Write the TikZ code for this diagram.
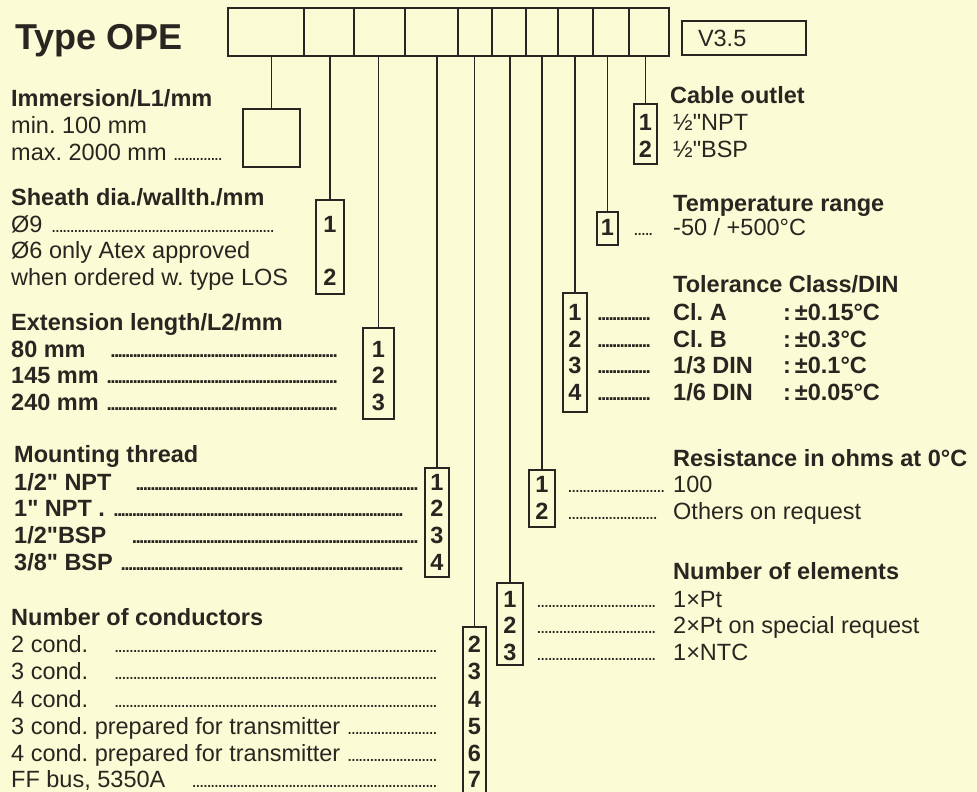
\documentclass[tikz,border=0pt]{standalone}
\usepackage{fontspec}
\setmainfont{Liberation Sans}[Ligatures=TeXOff]
\usepackage{xcolor}
\usetikzlibrary{positioning}
\definecolor{paper}{RGB}{251,251,213}
\definecolor{ink}{RGB}{42,37,32}
\frenchspacing
\newcommand{\bodysize}{\fontsize{23.5}{26.7}\selectfont}
\newcommand{\dotlead}{\leaders\hbox to 3.7pt{\hss{\fontsize{19}{19}\selectfont.}\hss}\hfill}
\newcommand{\lead}[2]{\makebox[#1pt][l]{#2\dotlead}}

\begin{document}
\begin{tikzpicture}[x=1pt, y=-1pt,
  cell/.style={draw=ink, line width=2pt, minimum height=48pt, inner sep=0pt},
  numbox/.style={draw=ink, line width=1.6pt, inner sep=0pt},
  num/.style={font=\bodysize\bfseries, text=ink, anchor=base, inner sep=0pt},
  head/.style={font=\bodysize\bfseries, text=ink, anchor=base west, inner sep=0pt},
  item/.style={font=\bodysize, text=ink, anchor=base west, inner sep=0pt},
  itemb/.style={item, font=\bodysize\bfseries},
  title/.style={font=\fontsize{36}{40}\selectfont\bfseries, text=ink, anchor=base west, inner sep=0pt},
  verbox/.style={draw=ink, line width=1.6pt, minimum width=124pt, minimum height=34pt, text width=92pt, inner xsep=16pt, align=left, font=\bodysize, text=ink},
  wire/.style={draw=ink, line width=1.2pt}
]
\fill[paper] (0,0) rectangle (977,792);
\useasboundingbox (0,0) rectangle (977,792);

\node[title] (title) at (15,50) {Type OPE};
\foreach \xa/\xb [count=\i] in {228/304,304/354,354/405,405/458,458/492,492/526,526/558,558/593,593/629,629/669}
  \node[cell, minimum width={(\xb-\xa)*1pt}] (c\i) at ({(\xa+\xb)/2},32) {};
\node[verbox] (ver) at (744,38) {V3.5};

\foreach \n/\xa/\xb/\ya/\yb in {imm/243/300/109/167, sh/316/344/200/294, ext/363/394/328/419, mnt/425/449/468/577, cnd/463/486/627/800, ele/497/523/583/665, res/529/555/470/527, tol/563/587/293/412, tmp/597/618/212/245, cab/634/657/104/164}
  \node[numbox, minimum width={(\xb-\xa)*1pt}, minimum height={(\yb-\ya)*1pt}] (\n) at ({(\xa+\xb)/2},{(\ya+\yb)/2}) {};
\foreach \n [count=\i] in {imm,sh,ext,mnt,cnd,ele,res,tol,tmp,cab}
  \draw[wire] (\n.north |- c\i.south) -- (\n.north);

\foreach \n/\k/\y in {sh/1/232, sh/2/285, ext/1/357, ext/2/383, ext/3/410, mnt/1/490, mnt/2/516, mnt/3/543, mnt/4/570, cnd/2/652, cnd/3/679, cnd/4/707, cnd/5/734, cnd/6/761, cnd/7/787, ele/1/607, ele/2/633, ele/3/660, res/1/492, res/2/519, tol/1/320, tol/2/347, tol/3/373, tol/4/400, tmp/1/235, cab/1/130, cab/2/157}
  \node[num] (\n\k) at (\n.center |- 0,\y) {\k};

\node[head] (immH) at (11,106) {Immersion/L1/mm};
\node[item] (immA) at (11,133) {min. 100 mm};
\node[item] (immB) at (11,160) {\lead{211}{max. 2000 mm\ }};

\node[head] (shH) at (11,205) {Sheath dia./wallth./mm};
\node[item] (shA) at (11,232) {\lead{266}{Ø9\ }};
\node[item] (shB) at (11,258) {Ø6 only Atex approved};
\node[item] (shC) at (11,285) {when ordered w. type LOS};

\node[head] (extH) at (11,330) {Extension length/L2/mm};
\node[itemb] (extA) at (11,357) {\lead{327}{80 mm\quad}};
\node[itemb] (extB) at (11,383) {\lead{327}{145 mm\ }};
\node[itemb] (extC) at (11,410) {\lead{327}{240 mm\ }};

\node[head] (mntH) at (14,462) {Mounting thread};
\node[itemb] (mntA) at (14,490) {\lead{404}{1/2" NPT\quad}};
\node[itemb] (mntB) at (14,516) {\lead{391}{1" NPT .\ }};
\node[itemb] (mntC) at (14,543) {\lead{404}{1/2"BSP\quad}};
\node[itemb] (mntD) at (14,570) {\lead{391}{3/8" BSP\ }};

\node[head] (cndH) at (11,625) {Number of conductors};
\node[item] (cndA) at (11,652) {\lead{427}{2 cond.\quad}};
\node[item] (cndB) at (11,679) {\lead{427}{3 cond.\quad}};
\node[item] (cndC) at (11,707) {\lead{427}{4 cond.\quad}};
\node[item] (cndD) at (11,734) {\lead{426}{3 cond. prepared for transmitter\ }};
\node[item] (cndE) at (11,761) {\lead{426}{4 cond. prepared for transmitter\ }};
\node[item] (cndF) at (11,787) {\lead{426}{FF bus, 5350A\quad}};

\node[head] (cabH) at (670,103) {Cable outlet};
\node[item] (cabA) at (673,130) {½"NPT};
\node[item] (cabB) at (673,157) {½"BSP};

\node[head] (tmpH) at (673,211) {Temperature range};
\node[item] (tmpA) at (634,235) {\lead{19}{}\hspace{20pt}-50 / +500°C};

\node[head] (tolH) at (673,292) {Tolerance Class/DIN};
\node[itemb] (tolA) at (598,320) {\lead{52}{}\hspace{23pt}\makebox[110pt][l]{Cl. A}:\,±0.15°C};
\node[itemb] (tolB) at (598,347) {\lead{52}{}\hspace{23pt}\makebox[110pt][l]{Cl. B}:\,±0.3°C};
\node[itemb] (tolC) at (598,373) {\lead{52}{}\hspace{23pt}\makebox[110pt][l]{1/3 DIN}:\,±0.1°C};
\node[itemb] (tolD) at (598,400) {\lead{52}{}\hspace{23pt}\makebox[110pt][l]{1/6 DIN}:\,±0.05°C};

\node[head] (resH) at (673,466) {Resistance in ohms at 0°C};
\node[item] (resA) at (568,492) {\lead{99}{}\hspace{6pt}100};
\node[item] (resB) at (568,519) {\lead{92}{}\hspace{13pt}Others on request};

\node[head] (eleH) at (673,579) {Number of elements};
\node[item] (eleA) at (537,607) {\lead{120}{}\hspace{16pt}1×Pt};
\node[item] (eleB) at (537,633) {\lead{120}{}\hspace{16pt}2×Pt on special request};
\node[item] (eleC) at (537,660) {\lead{120}{}\hspace{16pt}1×NTC};
\end{tikzpicture}
\end{document}
